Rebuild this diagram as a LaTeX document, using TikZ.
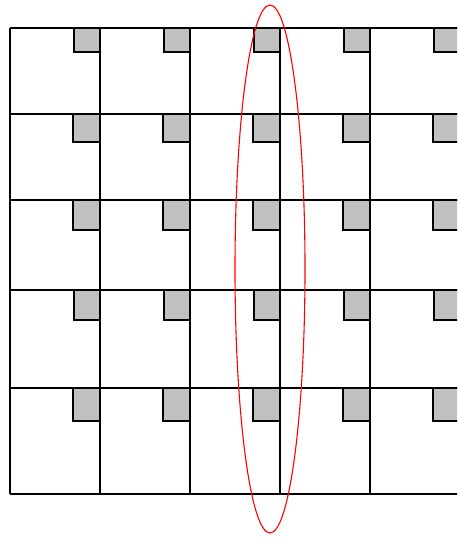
\documentclass[tikz,border=0pt]{standalone}
\begin{document}
\begin{tikzpicture}[x=1pt,y=-1pt,
  gridline/.style={draw=black,line width=1.2pt},
  graysq/.style={draw=black,fill={rgb,255:red,192;green,192;blue,192},line width=1.5pt},
  ring/.style={draw={rgb,255:red,255;green,0;blue,0},line width=1.1pt}]
\useasboundingbox (0,0) rectangle (457,537);
\begin{scope}
\clip (0,0) rectangle (457,537);
% grid lines
\foreach \x in {10,100,190,280,370,460}
  \draw[gridline] (\x,28) -- (\x,494);
\foreach \y in {28,114,200,290,388,494}
  \draw[gridline] (10,\y) -- (460,\y);
% gray squares: top of row, height, width
\foreach \t/\h/\w in {28/24/26, 114/28/27, 200/30/27, 290/30/26, 388/33/27}
  \foreach \r in {100,190,280,370,460}
    \draw[graysq] (\r-\w,\t) rectangle (\r,\t+\h);
\end{scope}
% red ellipse
\draw[ring] (270,269) ellipse [x radius=35, y radius=264];
\end{tikzpicture}
\end{document}
